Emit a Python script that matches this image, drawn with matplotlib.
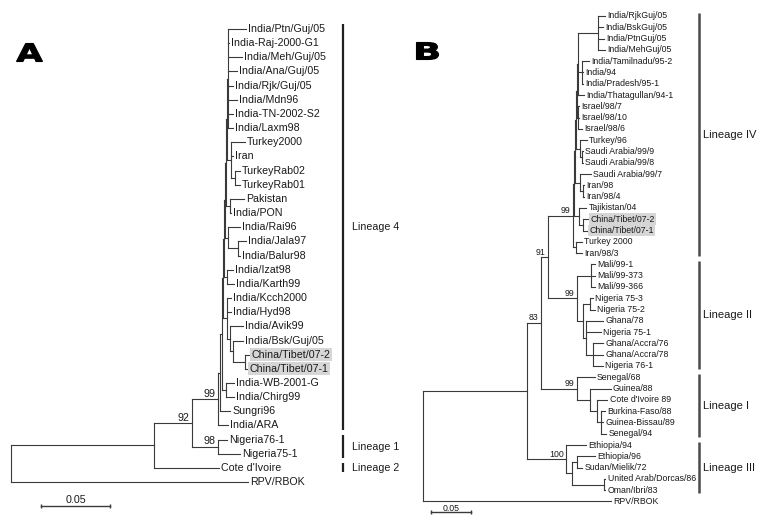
import matplotlib
matplotlib.use("Agg")
import matplotlib.pyplot as plt
from matplotlib.collections import LineCollection
from matplotlib.textpath import TextPath
from matplotlib.patches import PathPatch
from matplotlib.font_manager import FontProperties
from matplotlib.transforms import Affine2D, IdentityTransform

plt.rcParams['font.family'] = ['Liberation Sans', 'DejaVu Sans']

# ---- data: trees in Newick form (branch lengths = substitutions/site, node labels = bootstrap %)
TREE_A = (
    "((((((((((("
    "(India/Ptn/Guj/05:0.0130,India-Raj-2000-G1:0.0007,India/Meh/Guj/05:0.0101,"
    "India/Ana/Guj/05:0.0065,India/Rjk/Guj/05:0.0036,India/Mdn96:0.0065,"
    "India-TN-2002-S2:0.0036,India/Laxm98:0.0036):0.0007,"
    "(Turkey2000:0.0101,Iran:0.0014,(TurkeyRab02:0.0036,TurkeyRab01:0.0036):0.0029):0.0029"
    "):0.0007,"
    "(Pakistan:0.0101,India/PON:0.0007):0.0029"
    "):0.0007,"
    "(India/Rai96:0.0087,(India/Jala97:0.0058,India/Balur98:0.0014):0.0072):0.0022"
    "):0.0007,"
    "(India/Izat98:0.0043,India/Karth99:0.0051):0.0022"
    "):0.0007,"
    "(India/Kcch2000:0.0029,India/Hyd98:0.0029,(India/Avik99:0.0094,(India/Bsk/Guj/05:0.0072,"
    "(China/Tibet/07-2:0.0029,China/Tibet/07-1:0.0014):0.0087):0.0022):0.0022):0.0029"
    "):0.0007,"
    "(India-WB-2001-G:0.0058,India/Chirg99:0.0058):0.0029"
    "):0.0014,"
    "Sungri96:0.0072"
    "):0.0014,"
    "India/ARA:0.0072"
    ")99:0.0188,"
    "(Nigeria76-1:0.0065,Nigeria75-1:0.0159)98:0.0188"
    ")92:0.0274,"
    "Cote d'Ivoire:0.0469"
    "):0.1032,"
    "RPV/RBOK:0.1710);"
)

TREE_B = (
    "((((((((("
    "((India/RjkGuj/05:0.0084,India/BskGuj/05:0.0059,India/PtnGuj/05:0.0071,India/MehGuj/05:0.0084):0.0260,"
    "(India/Tamilnadu/95-2:0.0094,India/94:0.0019,India/Pradesh/95-1:0.0019):0.0050,"
    "India/Thatagullan/94-1:0.0081):0.0010,"
    "(Israel/98/7:0.0019,Israel/98/10:0.0019,Israel/98/6:0.0056):0.0010"
    "):0.0009,"
    "(Turkey/96:0.0094,(Saudi Arabia/99/9:0.0013,Saudi Arabia/99/8:0.0013):0.0031):0.0044"
    "):0.0010,"
    "(Saudi Arabia/99/7:0.0138,(Iran/98:0.0013,Iran/98/4:0.0013):0.0038):0.0060"
    "):0.0011,"
    "(Tajikistan/04:0.0088,(China/Tibet/07-2:0.0063,China/Tibet/07-1:0.0050):0.0050):0.0059"
    "):0.0013,"
    "(Turkey 2000:0.0075,Iran/98/3:0.0075):0.0034"
    ")99:0.0313,"
    "((Mali/99-1:0.0054,Mali/99-373:0.0054,Mali/99-366:0.0054):0.0171,"
    "((Nigeria 75-3:0.0038,Nigeria 75-2:0.0063):0.0084,"
    "(Ghana/78:0.0206,Nigeria 75-1:0.0181,(Ghana/Accra/76:0.0121,Ghana/Accra/78:0.0121,"
    "Nigeria 76-1:0.0121):0.0085):0.0040"
    "):0.0079"
    ")99:0.0359"
    ")91:0.0091,"
    "(Senegal/68:0.0225,(Guinea/88:0.0259,(Cote d'Ivoire 89:0.0133,"
    "(Burkina-Faso/88:0.0040,Guinea-Bissau/89:0.0019,Senegal/94:0.0060):0.0060):0.0084):0.0166)99:0.0446"
    ")83:0.0181,"
    "(Ethiopia/94:0.0250,((Ethiopia/96:0.0225,Sudan/Mielik/72:0.0070):0.0063,"
    "(United Arab/Dorcas/86:0.0020,Oman/Ibri/83:0.0020):0.0400):0.0068)100:0.0498"
    "):0.1290,"
    "RPV/RBOK:0.2343);"
)

highlighted = ['China/Tibet/07-2', 'China/Tibet/07-1']

lineages_a = ['Lineage 4', 'Lineage 1', 'Lineage 2']
lineages_a_first = ['India/Ptn/Guj/05', 'Nigeria76-1', "Cote d'Ivoire"]
lineages_a_last = ['India/ARA', 'Nigeria75-1', "Cote d'Ivoire"]

lineages_b = ['Lineage IV', 'Lineage II', 'Lineage I', 'Lineage III']
lineages_b_first = ['India/RjkGuj/05', 'Mali/99-1', 'Senegal/68', 'Ethiopia/94']
lineages_b_last = ['Iran/98/3', 'Nigeria 76-1', 'Senegal/94', 'Oman/Ibri/83']

scale_len = 0.05

LINE = '#3a3a3a'
TXT = '#1a1a1a'


def parse_newick(s):
    pos = 0

    def node():
        nonlocal pos
        children = []
        if s[pos] == '(':
            pos += 1
            children.append(node())
            while s[pos] == ',':
                pos += 1
                children.append(node())
            pos += 1
        start = pos
        while s[pos] not in ',():;':
            pos += 1
        label = s[start:pos].strip()
        length = 0.0
        if s[pos] == ':':
            pos += 1
            start = pos
            while s[pos] not in ',();':
                pos += 1
            length = float(s[start:pos])
        return {'label': label, 'length': length, 'children': children}

    return node()


def layout(tree):
    leaves = []

    def walk(n, x):
        n['x'] = x + n['length']
        if n['children']:
            for c in n['children']:
                walk(c, n['x'])
            n['y'] = (n['children'][0]['y'] + n['children'][-1]['y']) / 2
        else:
            n['y'] = len(leaves)
            leaves.append(n)

    walk(tree, 0.0)
    return leaves


def draw_tree(ax, tree, fs_tip, fs_boot, lw):
    leaves = layout(tree)
    segs = []
    internals = []

    def walk(n):
        if not n['children']:
            return
        internals.append(n)
        segs.append([(n['x'], n['children'][0]['y']), (n['x'], n['children'][-1]['y'])])
        for c in n['children']:
            segs.append([(n['x'], c['y']), (c['x'], c['y'])])
            walk(c)

    walk(tree)
    ax.add_collection(LineCollection(segs, colors=LINE, linewidths=lw, capstyle='projecting'))

    for lf in leaves:
        box = None
        if lf['label'] in highlighted:
            box = dict(facecolor='#d6d6d6', edgecolor='none', pad=1.0)
        ax.annotate(lf['label'], (lf['x'], lf['y']), xytext=(1.6, 0), textcoords='offset points',
                    ha='left', va='center', fontsize=fs_tip, color=TXT, bbox=box)
    for n in internals:
        if n['label']:
            ax.annotate(n['label'], (n['x'], n['y']), xytext=(-1.8, 0.3), textcoords='offset points',
                        ha='right', va='bottom', fontsize=fs_boot, color=TXT)
    return {lf['label']: lf['y'] for lf in leaves}


def setup_axes(root_px, px_per_unit, top_px, row_px):
    W, H = 768, 528
    ax = fig.add_axes([0, 0, 1, 1])
    ax.set_xlim(-root_px / px_per_unit, (W - root_px) / px_per_unit)
    ax.set_ylim((H - top_px) / row_px, -top_px / row_px)
    ax.axis('off')
    return ax


def draw_lineages(ax, ypos, names, first, last, bar_x, pad, bar_lw, bar_color, fs, dx):
    for name, a, b in zip(names, first, last):
        y0, y1 = ypos[a] - pad, ypos[b] + pad
        ax.plot([bar_x, bar_x], [y0, y1], color=bar_color, lw=bar_lw, solid_capstyle='butt')
        ax.annotate(name, (bar_x, (y0 + y1) / 2), xytext=(dx, 0), textcoords='offset points',
                    ha='left', va='center', fontsize=fs, color=TXT)


def draw_scale(ax, x0, y, fs, dy):
    ax.plot([x0, x0 + scale_len], [y, y], color=LINE, lw=1.0, marker='|', markersize=3.5,
            markeredgewidth=1.0)
    ax.annotate('0.05', (x0 + scale_len / 2, y), xytext=(0, dy), textcoords='offset points',
                ha='center', va='bottom', fontsize=fs, color=TXT)


def panel_letter(letter, left, top, right, bottom):
    # heavy, wide letter fitted into a pixel box (y measured from the top)
    fp = FontProperties(family='DejaVu Sans', weight='bold')
    path = TextPath((0, 0), letter, size=1, prop=fp)
    ext = path.get_extents()
    sx = (right - left) / ext.width
    sy = (bottom - top) / ext.height
    tr = Affine2D().translate(-ext.x0, -ext.y0).scale(sx, sy).translate(left, 528 - bottom)
    patch = PathPatch(tr.transform_path(path), facecolor='black', edgecolor='black', lw=0.8,
                      transform=IdentityTransform())
    fig.patches.append(patch)


fig = plt.figure(figsize=(7.68, 5.28), dpi=100)

# panel A
axA = setup_axes(11, 1386, 29, 14.16)
yA = draw_tree(axA, parse_newick(TREE_A), 7.7, 7.7, 0.8)
draw_lineages(axA, yA, lineages_a, lineages_a_first, lineages_a_last,
              0.2395, 0.32, 1.6, '#202020', 7.7, 6.5)
draw_scale(axA, 0.0217, 33.69, 7.7, 1.0)

# panel B
axB = setup_axes(423.3, 800, 16, 11.29)
yB = draw_tree(axB, parse_newick(TREE_B), 6.3, 6.3, 0.8)
draw_lineages(axB, yB, lineages_b, lineages_b_first, lineages_b_last,
              0.3446, 0.28, 1.8, '#4a4a4a', 8.0, 3.2)
draw_scale(axB, 0.0093, 43.96, 6.3, -0.5)

panel_letter('A', 16.5, 43.5, 42.5, 61.5)
panel_letter('B', 416.5, 42.5, 438.5, 59.5)

fig.savefig('out.png', dpi=100)
